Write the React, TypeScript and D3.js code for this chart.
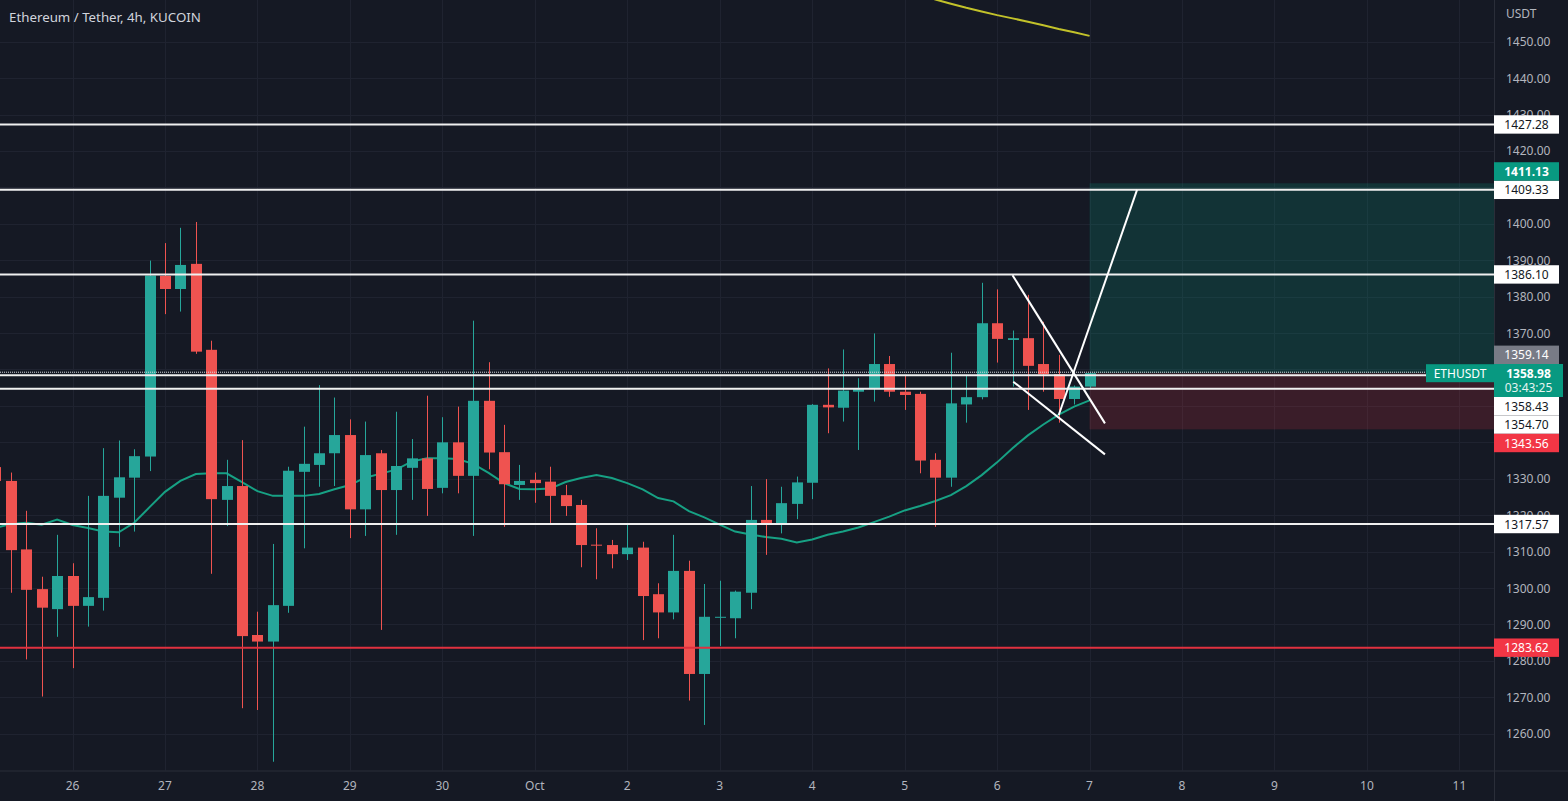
import React from 'react';
import * as d3 from 'd3';

const width = 1568;
const height = 801;
const plotRight = 1494;
const plotBottom = 770.5;

// 4h bars, index 0 = Sep 26 00:00, first visible bar is index -5
const firstIndex = -5;

const opens = [
  1333.2, 1329.4, 1310.6, 1299.7, 1294.2, 1303.3, 1295.1, 1297.3, 1324.8, 1330.3,
  1336.1, 1385.7, 1382.1, 1389.0, 1365.4, 1324.2, 1328.0, 1287.1, 1285.3, 1295.1,
  1331.9, 1333.8, 1337.0, 1342.0, 1321.6, 1337.0, 1326.9, 1333.0, 1335.6, 1327.5,
  1340.0, 1330.8, 1351.4, 1337.3, 1328.3, 1329.7, 1329.2, 1325.5, 1322.8, 1311.9,
  1311.8, 1309.3, 1311.1, 1298.3, 1293.3, 1304.7, 1276.4, 1292.0, 1291.7, 1298.7,
  1318.7, 1317.8, 1323.1, 1328.9, 1350.3, 1349.5, 1353.9, 1354.6, 1361.5, 1353.9,
  1353.3, 1335.2, 1330.3, 1350.4, 1352.4, 1372.7, 1368.1, 1368.6, 1361.5, 1358.7,
  1351.9, 1355.3,
];
const highs = [
  1334.6, 1331.7, 1321.2, 1303.1, 1314.6, 1306.8, 1325.3, 1338.4, 1340.5, 1338.1,
  1389.9, 1394.7, 1398.9, 1400.5, 1367.9, 1335.2, 1340.6, 1293.5, 1312.1, 1333.3,
  1344.3, 1355.7, 1352.3, 1346.3, 1345.7, 1337.9, 1348.4, 1340.9, 1352.8, 1346.9,
  1349.8, 1373.4, 1362.0, 1344.8, 1333.8, 1331.7, 1333.3, 1328.3, 1324.2, 1316.4,
  1313.2, 1317.8, 1312.7, 1301.3, 1314.6, 1307.5, 1301.1, 1302.0, 1299.3, 1328.0,
  1329.9, 1327.8, 1330.6, 1350.5, 1360.3, 1365.5, 1357.6, 1369.9, 1363.7, 1358.5,
  1353.9, 1337.0, 1364.6, 1358.5, 1383.8, 1382.0, 1370.7, 1380.5, 1373.1, 1364.0,
  1355.6, 1359.14,
];
const lows = [
  1327.8, 1298.7, 1280.4, 1270.2, 1286.6, 1278.0, 1289.4, 1293.8, 1311.3, 1315.5,
  1332.1, 1375.2, 1375.9, 1364.3, 1303.9, 1317.0, 1267.0, 1266.5, 1252.3, 1293.2,
  1310.9, 1327.8, 1328.0, 1313.7, 1314.3, 1288.5, 1314.6, 1324.2, 1319.8, 1326.0,
  1326.0, 1314.3, 1332.6, 1316.8, 1324.2, 1323.4, 1317.3, 1319.8, 1305.7, 1302.4,
  1305.4, 1307.7, 1285.7, 1286.2, 1291.4, 1269.1, 1262.4, 1284.1, 1286.2, 1294.2,
  1309.1, 1315.0, 1318.9, 1324.4, 1342.5, 1345.7, 1337.9, 1351.2, 1352.5, 1348.9,
  1331.5, 1316.8, 1327.8, 1345.4, 1351.8, 1361.9, 1355.3, 1348.9, 1353.9, 1345.4,
  1350.4, 1354.8,
];
const closes = [
  1329.4, 1310.4, 1299.5, 1294.6, 1303.3, 1295.1, 1297.5, 1325.3, 1330.4, 1336.2,
  1385.8, 1382.1, 1388.7, 1364.9, 1324.4, 1328.0, 1286.8, 1285.3, 1295.3, 1332.2,
  1334.1, 1337.0, 1342.0, 1321.6, 1336.5, 1326.9, 1333.5, 1335.6, 1327.2, 1340.0,
  1330.8, 1351.4, 1337.2, 1328.5, 1329.4, 1328.8, 1325.3, 1322.5, 1311.8, 1311.7,
  1309.3, 1311.1, 1297.8, 1293.3, 1304.7, 1276.4, 1292.1, 1292.1, 1299.0, 1318.7,
  1317.6, 1323.3, 1329.0, 1350.3, 1349.6, 1354.2, 1354.6, 1361.5, 1353.9, 1353.0,
  1335.0, 1330.3, 1350.7, 1352.4, 1372.7, 1368.4, 1368.6, 1361.0, 1358.7, 1351.9,
  1355.3, 1358.98,
];

// teal moving average under the candles
const emaValues = [
  1316.5, 1317.6, 1317.9, 1317.4, 1318.8, 1317.3, 1316.5, 1315.5, 1315.3, 1317.9,
  1322.2, 1326.4, 1329.4, 1331.3, 1331.5, 1331.5, 1329.1, 1326.6, 1325.3, 1325.3,
  1325.3, 1325.8, 1327.1, 1328.3, 1330.3, 1331.4, 1332.5, 1334.7, 1335.6, 1335.6,
  1335.4, 1334.1, 1331.6, 1328.8, 1327.2, 1327.1, 1327.3, 1329.1, 1330.2, 1331.0,
  1330.2, 1328.8, 1327.1, 1324.7, 1323.8, 1321.1, 1319.4, 1317.4, 1315.5, 1314.7,
  1314.0, 1313.5, 1312.5, 1313.3, 1314.6, 1315.5, 1316.6, 1318.1, 1319.6, 1321.3,
  1322.5, 1323.9, 1325.5, 1328.0, 1331.0, 1334.5, 1338.4, 1341.9, 1344.9, 1347.6,
  1349.8, 1351.5,
];

// yellow slow average, last 12 bars (indices 55..66)
const slowMaValues = [
  1462.8, 1461.6, 1460.4, 1459.3, 1458.3, 1457.3, 1456.4, 1455.5, 1454.5, 1453.5,
  1452.6, 1451.6,
];

const dayLabels = ['26', '27', '28', '29', '30', 'Oct', '2', '3', '4', '5', '6', '7', '8', '9', '10', '11'];
const priceTicks = [1260, 1270, 1280, 1290, 1300, 1310, 1320, 1330, 1340, 1350, 1360, 1370, 1380, 1390, 1400, 1410, 1420, 1430, 1440, 1450];

const whiteLevels = [1427.28, 1409.33, 1386.10, 1358.43, 1354.70, 1317.57];
const redLevel = 1283.62;
const lastPrice = 1358.98;
const barHigh = 1359.14;
const target = 1411.13;
const stop = 1343.56;
const countdown = '03:43:25';
const symbol = 'ETHUSDT';
const title = 'Ethereum / Tether, 4h, KUCOIN';

// drawn trend lines: [bar index, price]
const trendLines: [number, number][][] = [
  [[61.0, 1385.9], [67.0, 1345.2]],
  [[61.05, 1356.65], [67.0, 1336.7]],
  [[64.0, 1347.5], [69.08, 1409.3]],
];

const UP = '#26a69a';
const DOWN = '#ef5350';
const BG = '#151924';
const GRID = '#1f2330';
const TEXT = '#b2b5be';
const FONT = '"Noto Sans", "Liberation Sans", sans-serif';

const xScale = d3.scaleLinear().domain([0, 90]).range([72.5, 1459.4]);
const yScale = d3.scaleLinear().domain([1260, 1450]).range([733.7, 41.7]);

type Label = { price: number; text: string; bg: string; fg: string; bold?: boolean; y?: number };

const LABEL_H = 18.4;
const CUR_H = 33;

function layoutLabels(): Label[] {
  const labels: Label[] = [
    ...whiteLevels.map((p) => ({ price: p, text: p.toFixed(2), bg: '#ffffff', fg: '#131722' })),
    { price: redLevel, text: redLevel.toFixed(2), bg: '#f23645', fg: '#ffffff' },
    { price: target, text: target.toFixed(2), bg: '#089981', fg: '#ffffff', bold: true },
    { price: stop, text: stop.toFixed(2), bg: '#f23645', fg: '#ffffff' },
    { price: barHigh, text: barHigh.toFixed(2), bg: '#787b86', fg: '#ffffff' },
  ];
  const anchorTop = yScale(lastPrice) - LABEL_H / 2;
  const anchorBottom = anchorTop + CUR_H;
  const above = labels.filter((l) => l.price > lastPrice).sort((a, b) => a.price - b.price);
  const below = labels.filter((l) => l.price <= lastPrice).sort((a, b) => b.price - a.price);
  let limit = anchorTop;
  above.forEach((l) => {
    const c = Math.min(yScale(l.price), limit - LABEL_H / 2);
    l.y = c;
    limit = c - LABEL_H / 2;
  });
  limit = anchorBottom;
  below.forEach((l) => {
    const c = Math.max(yScale(l.price), limit + LABEL_H / 2);
    l.y = c;
    limit = c + LABEL_H / 2;
  });
  return labels;
}

const Chart = () => {
  const n = opens.length;
  const bodyW = 11;
  const emaLine = d3
    .line<number>()
    .x((_, k) => xScale(firstIndex + k))
    .y((v) => yScale(v));
  const slowStart = firstIndex + n - slowMaValues.length;
  const slowLine = d3
    .line<number>()
    .x((_, k) => xScale(slowStart + k))
    .y((v) => yScale(v));
  const trend = d3
    .line<[number, number]>()
    .x((d) => xScale(d[0]))
    .y((d) => yScale(d[1]));

  const lastX = xScale(firstIndex + n - 1);
  const labels = layoutLabels();
  const yLast = yScale(lastPrice);

  // tick labels that sit fully behind a price tag are not visible
  const boxes = [
    ...labels.map((l) => [(l.y as number) - LABEL_H / 2, (l.y as number) + LABEL_H / 2]),
    [yLast - LABEL_H / 2, yLast - LABEL_H / 2 + CUR_H],
  ];
  const visibleTicks = priceTicks.filter((p) => {
    const ty = yScale(p);
    return !boxes.some(([a, b]) => ty > a + 2 && ty < b - 2);
  });

  return (
    <svg width={width} height={height} style={{ position: 'absolute', left: 0, top: 0, display: 'block' }}>
      <defs>
        <clipPath id="plot">
          <rect x={0} y={0} width={plotRight} height={plotBottom} />
        </clipPath>
      </defs>
      <rect width={width} height={height} fill={BG} />

      {/* grid */}
      <g stroke={GRID} strokeWidth={1}>
        {priceTicks.map((p) => (
          <line key={p} x1={0} x2={plotRight} y1={Math.round(yScale(p)) + 0.5} y2={Math.round(yScale(p)) + 0.5} />
        ))}
        {dayLabels.map((d, i) => (
          <line key={d} x1={Math.round(xScale(i * 6)) + 0.5} x2={Math.round(xScale(i * 6)) + 0.5} y1={0} y2={plotBottom} />
        ))}
      </g>

      <g clipPath="url(#plot)">
        {/* long position box */}
        <rect x={lastX} y={yScale(target)} width={plotRight - lastX} height={yScale(lastPrice) - yScale(target)} fill="#089981" fillOpacity={0.2} />
        <rect x={lastX} y={yScale(lastPrice)} width={plotRight - lastX} height={yScale(stop) - yScale(lastPrice)} fill="#f23645" fillOpacity={0.17} />

        <path d={emaLine(emaValues) || ''} fill="none" stroke="#17a184" strokeWidth={2} />
        <path d={slowLine(slowMaValues) || ''} fill="none" stroke="#c2c22a" strokeWidth={2} />

        {/* candles */}
        {opens.map((o, k) => {
          const c = closes[k];
          const x = xScale(firstIndex + k);
          const color = c >= o ? UP : DOWN;
          const top = yScale(Math.max(o, c));
          const bot = yScale(Math.min(o, c));
          const wx = Math.round(x) + 0.5;
          return (
            <g key={k}>
              <line x1={wx} x2={wx} y1={yScale(highs[k])} y2={yScale(lows[k])} stroke={color} strokeWidth={1} />
              <rect x={Math.round(x) - 5} y={top} width={bodyW} height={Math.max(1, bot - top)} fill={color} />
            </g>
          );
        })}

        {/* horizontal levels */}
        {whiteLevels.map((p) => (
          <line key={p} x1={0} x2={plotRight} y1={yScale(p)} y2={yScale(p)} stroke="#f0f0f0" strokeWidth={2} />
        ))}
        <line x1={0} x2={plotRight} y1={yScale(redLevel)} y2={yScale(redLevel)} stroke="#e0313f" strokeWidth={2} />

        {/* current price line */}
        <line x1={0} x2={plotRight} y1={yLast - 1} y2={yLast - 1} stroke="#d8dbe2" strokeWidth={1} strokeDasharray="1 1" />

        {trendLines.map((t, i) => (
          <path key={i} d={trend(t) || ''} stroke="#ffffff" strokeWidth={2} fill="none" />
        ))}

        {/* symbol tag */}
        <rect x={1426} y={yLast - 9} width={plotRight - 1426} height={18} fill="#089981" />
        <text x={1460} y={yLast + 4.5} textAnchor="middle" fontFamily={FONT} fontSize={12} fill="#ffffff">
          {symbol}
        </text>
      </g>

      {/* axes borders */}
      <line x1={plotRight + 0.5} x2={plotRight + 0.5} y1={0} y2={height} stroke="#2a2e39" />
      <line x1={0} x2={width} y1={plotBottom + 0.5} y2={plotBottom + 0.5} stroke="#2a2e39" />

      {/* title */}
      <text x={9} y={22} fontFamily={FONT} fontSize={13.3} fill="#d1d4dc">
        {title}
      </text>

      {/* price axis */}
      <text x={1506} y={18} fontFamily={FONT} fontSize={12} fill={TEXT}>USDT</text>
      {visibleTicks.map((p) => (
        <text key={p} x={1506} y={yScale(p) + 4.5} fontFamily={FONT} fontSize={12} fill={TEXT}>
          {p.toFixed(2)}
        </text>
      ))}
      {labels.map((l) => (
        <g key={l.text}>
          <rect x={plotRight} y={(l.y as number) - LABEL_H / 2} width={65} height={LABEL_H} fill={l.bg} />
          <text x={plotRight + 32.5} y={(l.y as number) + 4.5} textAnchor="middle" fontFamily={FONT} fontSize={12} fontWeight={l.bold ? 700 : 400} fill={l.fg}>
            {l.text}
          </text>
        </g>
      ))}
      <rect x={plotRight} y={yLast - LABEL_H / 2} width={69} height={CUR_H} fill="#089981" />
      <text x={plotRight + 34.5} y={yLast + 4.5} textAnchor="middle" fontFamily={FONT} fontSize={12} fontWeight={700} fill="#ffffff">
        {lastPrice.toFixed(2)}
      </text>
      <text x={plotRight + 34.5} y={yLast + 19} textAnchor="middle" fontFamily={FONT} fontSize={12} fill="#e6f4f1">
        {countdown}
      </text>

      {/* time axis */}
      {dayLabels.map((d, i) => (
        <text key={d} x={xScale(i * 6)} y={790} textAnchor="middle" fontFamily={FONT} fontSize={12} fill={TEXT}>
          {d}
        </text>
      ))}
    </svg>
  );
};

const App = () => <Chart />;

export default App;
